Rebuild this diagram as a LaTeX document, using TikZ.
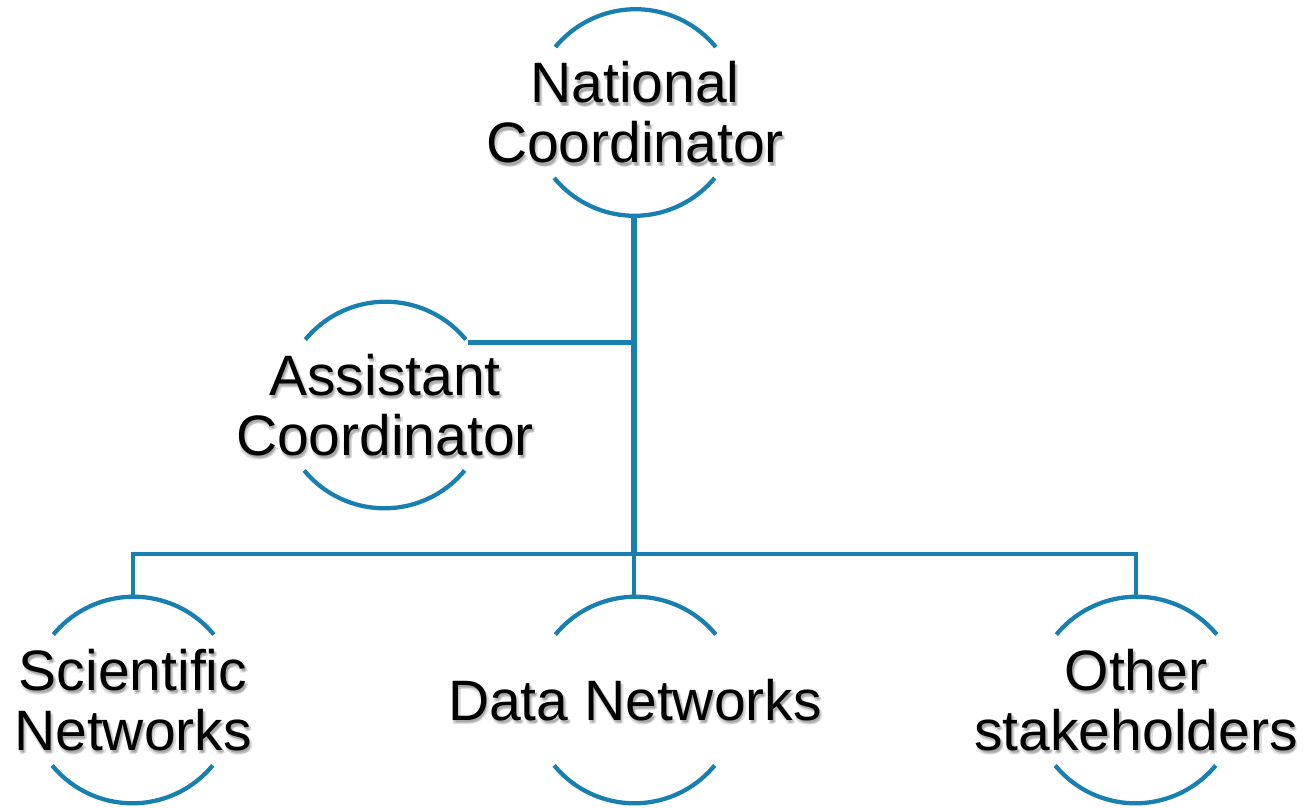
\documentclass[tikz,border=0pt]{standalone}
\usepackage{fontspec}
\setmainfont{Liberation Sans}
\definecolor{orgblue}{RGB}{24,128,176}
\tikzset{
  unit/.style={x=0.75pt,y=-0.75pt},
  ring/.style={circle,draw=none,minimum size=156pt,inner sep=0pt,outer sep=0pt},
  lbl/.style={align=center,font=\fontsize{42.75pt}{45pt}\selectfont,inner sep=0pt},
  shade/.style={lbl,text=black,opacity=0.13},
  wire/.style={draw=orgblue,line width=3.3pt},
  trunk/.style={draw=orgblue,line width=4pt},
  arcline/.style={draw=orgblue,line width=3.2pt}
}
\newcommand\ringarcs[1]{%
  \draw[arcline] (#1.39.5) arc[start angle=39.5,end angle=140.5,radius=78pt];
  \draw[arcline] (#1.219.5) arc[start angle=219.5,end angle=320.5,radius=78pt];}
\newcommand\labeltext[2]{%
  \node[shade,xshift=1.2pt,yshift=-1.6pt] (#1-sa) at (#1) {#2};
  \node[shade,xshift=2.2pt,yshift=-2.6pt] (#1-sb) at (#1) {#2};
  \node[shade,xshift=0.6pt,yshift=-2.8pt] (#1-sc) at (#1) {#2};
  \node[lbl] (#1-t) at (#1) {#2};}
\begin{document}
\begin{tikzpicture}[unit]
\useasboundingbox (0,0) rectangle (1310,807);
% circles (invisible nodes; arcs drawn below)
\node[ring] (nc) at (635,112.5) {};
\node[ring] (ac) at (385,405) {};
\node[ring] (sn) at (133,700) {};
\node[ring] (dn) at (635,700) {};
\node[ring] (os) at (1136,700) {};
\coordinate (bus) at (634,554);
\coordinate (top) at (634,217);
% connectors
\draw[trunk] (top) -- (bus);
\draw[wire] (ac.37.3) -- (ac.37.3 -| bus);
\draw[wire,line join=miter] (sn.north) -- (sn.north |- bus) -- (os.north |- bus) -- (os.north);
\draw[wire] (bus) -- (dn.north -| bus);
% arcs
\ringarcs{nc}
\ringarcs{ac}
\ringarcs{sn}
\ringarcs{dn}
\ringarcs{os}
% labels
\labeltext{nc}{National\\Coordinator}
\labeltext{ac}{Assistant\\Coordinator}
\labeltext{sn}{Scientific\\Networks}
\labeltext{dn}{Data Networks}
\labeltext{os}{Other\\stakeholders}
\end{tikzpicture}
\end{document}
